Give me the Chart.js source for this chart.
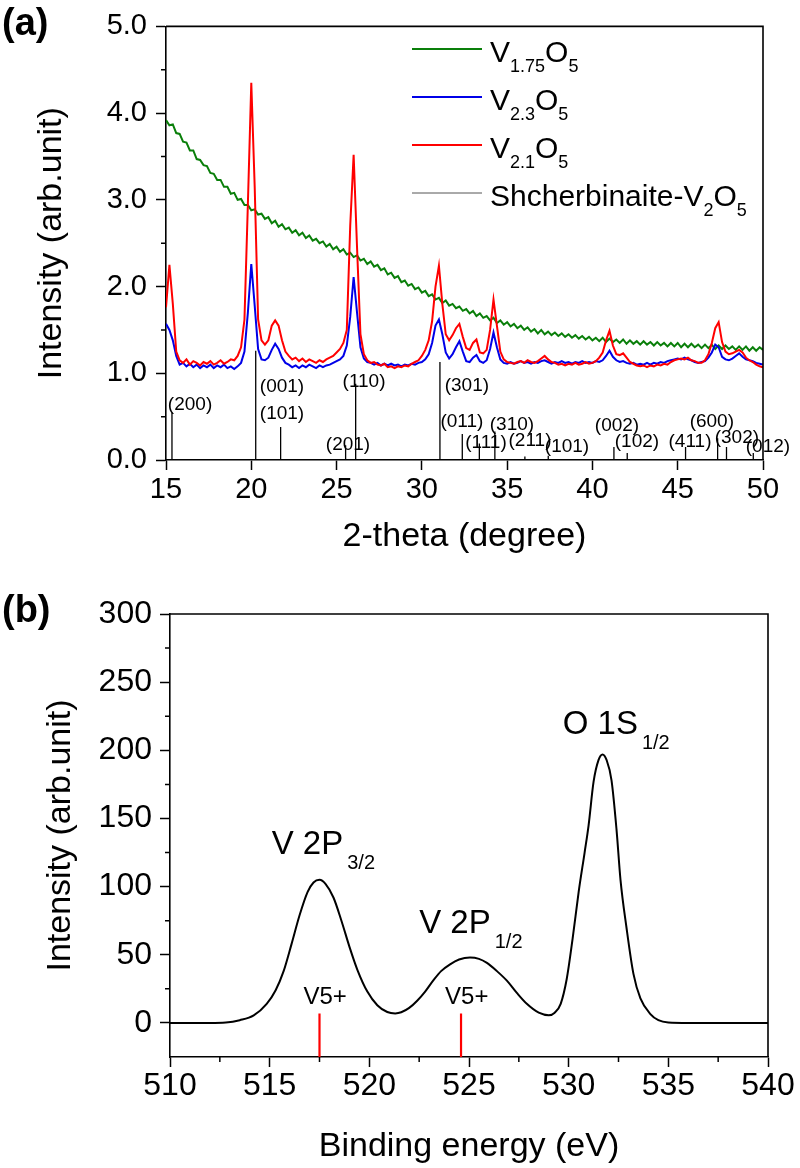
<!DOCTYPE html>
<html>
<head>
<meta charset="utf-8">
<script src="https://cdn.jsdelivr.net/npm/chart.js@4.4.1/dist/chart.umd.min.js"></script>
<style>
  html, body { margin: 0; padding: 0; background: #fff; }
  #wrap { position: relative; width: 800px; height: 1168px; }
  canvas { position: absolute; left: 0; }
  #xrd { top: 0; }
  #xps { top: 575px; }
</style>
</head>
<body>
<div id="wrap">
  <canvas id="xrd" width="800" height="575"></canvas>
  <canvas id="xps" width="800" height="593"></canvas>
</div>
<script>
// ---- panel (a): XRD, sampled every 0.2 degree from 15 to 50 ----
const twoTheta = [];
for (let i = 0; i <= 175; i++) twoTheta.push(Math.round((15 + i * 0.2) * 10) / 10);

const v175 = [
  3.92, 3.86, 3.87, 3.77, 3.76, 3.67, 3.66, 3.57, 3.57, 3.47,
  3.46, 3.40, 3.39, 3.31, 3.30, 3.23, 3.23, 3.15, 3.15, 3.07,
  3.08, 3.00, 3.01, 2.94, 2.94, 2.88, 2.89, 2.83, 2.84, 2.78,
  2.80, 2.73, 2.76, 2.69, 2.72, 2.66, 2.68, 2.62, 2.65, 2.59,
  2.62, 2.56, 2.59, 2.53, 2.55, 2.50, 2.52, 2.46, 2.49, 2.43,
  2.46, 2.40, 2.43, 2.37, 2.39, 2.34, 2.36, 2.30, 2.32, 2.26,
  2.29, 2.23, 2.25, 2.19, 2.21, 2.14, 2.16, 2.10, 2.12, 2.05,
  2.07, 2.01, 2.03, 1.97, 1.99, 1.93, 1.95, 1.89, 1.91, 1.85,
  1.87, 1.81, 1.84, 1.78, 1.80, 1.75, 1.77, 1.72, 1.74, 1.69,
  1.72, 1.66, 1.69, 1.64, 1.66, 1.61, 1.64, 1.58, 1.61, 1.56,
  1.59, 1.54, 1.57, 1.52, 1.55, 1.50, 1.53, 1.48, 1.51, 1.46,
  1.50, 1.45, 1.48, 1.44, 1.47, 1.43, 1.46, 1.42, 1.45, 1.41,
  1.44, 1.40, 1.43, 1.39, 1.42, 1.38, 1.41, 1.37, 1.41, 1.36,
  1.40, 1.36, 1.39, 1.35, 1.39, 1.34, 1.38, 1.34, 1.37, 1.33,
  1.37, 1.33, 1.36, 1.32, 1.36, 1.32, 1.35, 1.31, 1.35, 1.31,
  1.35, 1.30, 1.34, 1.30, 1.34, 1.30, 1.33, 1.29, 1.33, 1.29,
  1.33, 1.28, 1.32, 1.28, 1.32, 1.28, 1.31, 1.27, 1.31, 1.27,
  1.31, 1.26, 1.30, 1.26, 1.30, 1.27
];
const v23 = [
  1.57, 1.50, 1.38, 1.20, 1.10, 1.12, 1.08, 1.11, 1.07, 1.10,
  1.06, 1.09, 1.07, 1.10, 1.06, 1.09, 1.07, 1.10, 1.06, 1.08,
  1.05, 1.08, 1.12, 1.25, 1.70, 2.26, 1.78, 1.28, 1.16, 1.15,
  1.18, 1.27, 1.34, 1.28, 1.18, 1.12, 1.10, 1.07, 1.09, 1.06,
  1.09, 1.07, 1.10, 1.08, 1.06, 1.09, 1.07, 1.09, 1.10, 1.12,
  1.14, 1.16, 1.20, 1.32, 1.65, 2.11, 1.70, 1.30, 1.17, 1.13,
  1.12, 1.10, 1.12, 1.09, 1.11, 1.09, 1.11, 1.09, 1.10, 1.08,
  1.10, 1.09, 1.11, 1.10, 1.12, 1.13, 1.16, 1.22, 1.35, 1.55,
  1.62, 1.45, 1.24, 1.17, 1.22, 1.30, 1.37, 1.25, 1.14, 1.13,
  1.18, 1.21, 1.14, 1.12, 1.15, 1.28, 1.47, 1.30, 1.16, 1.12,
  1.11, 1.13, 1.11, 1.12, 1.14, 1.12, 1.13, 1.11, 1.13, 1.12,
  1.14, 1.15, 1.13, 1.11, 1.13, 1.12, 1.14, 1.12, 1.13, 1.11,
  1.13, 1.12, 1.14, 1.12, 1.13, 1.12, 1.14, 1.13, 1.15, 1.20,
  1.26, 1.19, 1.15, 1.13, 1.14, 1.12, 1.11, 1.12, 1.10, 1.11,
  1.10, 1.12, 1.10, 1.12, 1.11, 1.13, 1.12, 1.14, 1.15, 1.16,
  1.17, 1.16, 1.18, 1.16, 1.15, 1.13, 1.12, 1.13, 1.14, 1.18,
  1.24, 1.33, 1.30, 1.19, 1.16, 1.15, 1.17, 1.20, 1.23, 1.19,
  1.16, 1.15, 1.14, 1.12, 1.11, 1.10
];
const v21 = [
  1.76, 2.25, 1.80, 1.25, 1.15, 1.12, 1.16, 1.10, 1.14, 1.12,
  1.09, 1.13, 1.11, 1.14, 1.10, 1.12, 1.15, 1.11, 1.13, 1.16,
  1.15, 1.20, 1.30, 1.62, 2.95, 4.35, 3.15, 1.62, 1.38, 1.33,
  1.38, 1.55, 1.61, 1.55, 1.38, 1.25, 1.20, 1.16, 1.18, 1.14,
  1.17, 1.13, 1.16, 1.14, 1.12, 1.15, 1.13, 1.16, 1.18, 1.20,
  1.24, 1.28, 1.35, 1.50, 2.70, 3.52, 2.45, 1.45, 1.22, 1.15,
  1.12, 1.13, 1.10, 1.09, 1.11, 1.07, 1.08, 1.06, 1.08, 1.07,
  1.09, 1.08, 1.11, 1.13, 1.15, 1.20, 1.27, 1.38, 1.60, 2.00,
  2.24, 1.80, 1.45, 1.38, 1.44, 1.52, 1.57, 1.42, 1.29, 1.27,
  1.35, 1.39, 1.24, 1.23, 1.27, 1.50, 1.85, 1.55, 1.25, 1.16,
  1.13, 1.12, 1.11, 1.13, 1.14, 1.12, 1.15, 1.13, 1.12, 1.14,
  1.17, 1.20, 1.16, 1.13, 1.12, 1.10, 1.11, 1.09, 1.11, 1.10,
  1.12, 1.10, 1.11, 1.13, 1.11, 1.12, 1.14, 1.18, 1.24, 1.38,
  1.49, 1.32, 1.22, 1.21, 1.23, 1.18, 1.13, 1.11, 1.09, 1.08,
  1.09, 1.07, 1.09, 1.08, 1.10, 1.09, 1.11, 1.10, 1.13, 1.15,
  1.16, 1.17, 1.16, 1.18, 1.15, 1.14, 1.12, 1.12, 1.15, 1.22,
  1.35, 1.52, 1.59, 1.36, 1.25, 1.22, 1.23, 1.25, 1.27, 1.24,
  1.18, 1.15, 1.13, 1.10, 1.08, 1.07
];

// Shcherbinaite V2O5 reference pattern (stick positions and heights)
const refTheta  = [15.35, 20.26, 21.72, 25.53, 26.12, 31.06, 32.37, 33.37, 34.28, 36.04, 37.41, 41.26, 42.04, 45.46, 47.34, 47.86, 49.43];
const refHeight = [0.55, 1.26, 0.38, 0.17, 0.88, 1.13, 0.30, 0.19, 0.33, 0.04, 0.05, 0.15, 0.08, 0.15, 0.25, 0.15, 0.08];

// hkl labels with their anchor (centre) in data units
const hklText  = ['(200)', '(001)', '(101)', '(201)', '(110)', '(301)', '(011)', '(310)', '(111)', '(211)', '(101)', '(002)', '(102)', '(411)', '(600)', '(302)', '(012)'];
const hklTheta = [16.41, 21.80, 21.80, 25.67, 26.61, 32.64, 32.35, 35.28, 33.76, 36.34, 38.51, 41.44, 42.61, 45.72, 47.00, 48.47, 50.29];
const hklLevel = [0.64, 0.84, 0.53, 0.17, 0.90, 0.86, 0.44, 0.41, 0.20, 0.22, 0.15, 0.39, 0.21, 0.21, 0.44, 0.26, 0.15];

const thetaTicks = [15, 20, 25, 30, 35, 40, 45, 50];
const xrdTicks = [0, 1, 2, 3, 4, 5];
const xrdMinor = [0.5, 1.5, 2.5, 3.5, 4.5];

// ---- panel (b): XPS ----
const bindingEnergy = [510, 511, 512, 512.8, 513.5, 514.2, 514.85, 515.3, 515.7, 516.1,
  516.5, 516.9, 517.2, 517.5, 517.8, 518.2, 518.6, 519.0, 519.4, 519.9,
  520.4, 520.9, 521.3, 521.6, 522.0, 522.4, 522.8, 523.2, 523.6, 524.05,
  524.5, 525.05, 525.5, 525.9, 526.4, 526.9, 527.4, 527.9, 528.5, 529.0,
  529.3, 529.6, 529.9, 530.2, 530.5, 530.8, 531.0, 531.25, 531.5, 531.7,
  531.9, 532.15, 532.4, 532.6, 532.9, 533.25, 533.6, 534.1, 534.5, 535.0, 536, 540];
const xpsIntensity = [0, 0, 0, 0.3, 2, 5.5, 14, 24, 38, 58,
  79, 96, 103, 105, 102, 92, 75, 56, 39, 23,
  13, 8, 7, 7.8, 11, 16.3, 23, 31, 38, 43,
  46.5, 48, 47, 44, 38, 31, 22, 14, 7.5, 5.6,
  7.5, 14, 32, 62, 96, 125, 145, 177, 193, 197,
  193, 178, 142, 105, 70, 36, 18, 6.5, 2, 0.3, 0, 0];

const v5Energy = [517.5, 524.6];
const v5Top = 7;

const peakText   = [['V 2P', '3/2'], ['V 2P', '1/2'], ['O 1S', '1/2']];
const peakEnergy = [515.1, 522.5, 529.7];
const peakLevel  = [124, 66, 212];

const energyTicks = [510, 515, 520, 525, 530, 535, 540];
const energyMinor = [512.5, 517.5, 522.5, 527.5, 532.5, 537.5];
const xpsTicks = [0, 50, 100, 150, 200, 250, 300];
const xpsMinor = [25, 75, 125, 175, 225, 275];

const FONT = "'Liberation Sans', Arial, sans-serif";
Chart.defaults.font.family = FONT;
Chart.defaults.color = '#000';

function richText(ctx, parts, x, y, size, subSize, drop, gap) {
  let cx = x;
  parts.forEach(([txt, sub]) => {
    ctx.font = (sub ? subSize : size) + 'px ' + FONT;
    if (sub) cx += gap;
    ctx.fillText(txt, cx, sub ? y + drop : y);
    cx += ctx.measureText(txt).width;
  });
}

function minorTicks(ctx, chart, xVals, yVals) {
  const {left, bottom} = chart.chartArea;
  ctx.strokeStyle = '#000';
  ctx.lineWidth = 1.5;
  ctx.beginPath();
  yVals.forEach(v => {
    const py = chart.scales.y.getPixelForValue(v);
    ctx.moveTo(left - 5, py); ctx.lineTo(left, py);
  });
  xVals.forEach(v => {
    const px = chart.scales.x.getPixelForValue(v);
    ctx.moveTo(px, bottom); ctx.lineTo(px, bottom + 5);
  });
  ctx.stroke();
}

function frame(ctx, chart) {
  const a = chart.chartArea;
  ctx.strokeStyle = '#000';
  ctx.lineWidth = 1.6;
  ctx.beginPath();
  ctx.moveTo(a.left, a.top); ctx.lineTo(a.right, a.top); ctx.lineTo(a.right, a.bottom);
  ctx.stroke();
}

function axes(xOpts, yOpts) {
  const common = {
    grid: { drawOnChartArea: false, tickLength: 10, tickWidth: 1.5, tickColor: '#000' },
    border: { color: '#000', width: 1.6 }
  };
  return {
    x: Object.assign({ type: 'linear' }, common, xOpts),
    y: Object.assign({ type: 'linear' }, common, yOpts)
  };
}

const legendItems = [
  { color: '#0a7f0a', width: 2, parts: [['V', 0], ['1.75', 1], ['O', 0], ['5', 1]] },
  { color: '#0000e8', width: 2, parts: [['V', 0], ['2.3', 1], ['O', 0], ['5', 1]] },
  { color: '#ff0000', width: 2, parts: [['V', 0], ['2.1', 1], ['O', 0], ['5', 1]] },
  { color: '#555555', width: 1, parts: [['Shcherbinaite-V', 0], ['2', 1], ['O', 0], ['5', 1]] }
];

const xrdDecor = {
  id: 'xrdDecor',
  afterDraw(chart) {
    const ctx = chart.ctx;
    const {x, y} = chart.scales;
    ctx.save();
    frame(ctx, chart);
    minorTicks(ctx, chart, [], xrdMinor);
    // hkl labels
    ctx.fillStyle = '#000';
    ctx.font = '19px ' + FONT;
    ctx.textAlign = 'center';
    ctx.textBaseline = 'middle';
    hklText.forEach((t, i) => ctx.fillText(t, x.getPixelForValue(hklTheta[i]), y.getPixelForValue(hklLevel[i])));
    // legend
    ctx.textAlign = 'left';
    ctx.textBaseline = 'alphabetic';
    legendItems.forEach((it, i) => {
      const base = 62 + i * 48;
      ctx.strokeStyle = it.color;
      ctx.lineWidth = it.width;
      ctx.beginPath();
      ctx.moveTo(412, base - 13); ctx.lineTo(482, base - 13);
      ctx.stroke();
      richText(ctx, it.parts, 490, base, 30, 18, 10, 0);
    });
    ctx.font = 'bold 38px ' + FONT;
    ctx.fillText('(a)', 2, 35);
    ctx.restore();
  }
};

const xpsDecor = {
  id: 'xpsDecor',
  afterDraw(chart) {
    const ctx = chart.ctx;
    const {x, y} = chart.scales;
    ctx.save();
    frame(ctx, chart);
    minorTicks(ctx, chart, energyMinor, xpsMinor);
    ctx.fillStyle = '#000';
    ctx.textAlign = 'left';
    ctx.textBaseline = 'alphabetic';
    peakText.forEach((p, i) => {
      richText(ctx, [[p[0], 0], [p[1], 1]], x.getPixelForValue(peakEnergy[i]), y.getPixelForValue(peakLevel[i]), 33, 20, 15, 4);
    });
    ctx.font = '24px ' + FONT;
    v5Energy.forEach(e => ctx.fillText('V5+', x.getPixelForValue(e) - 16, y.getPixelForValue(14)));
    ctx.font = 'bold 38px ' + FONT;
    ctx.fillText('(b)', 2, 47);
    ctx.restore();
  }
};

function buildXRDChart() {
  const sticks = [];
  refTheta.forEach((t, i) => {
    sticks.push({ x: t, y: 0 }, { x: t, y: refHeight[i] }, { x: t, y: null });
  });
  const series = (vals) => twoTheta.map((t, i) => ({ x: t, y: vals[i] }));
  return new Chart(document.getElementById('xrd'), {
    type: 'line',
    data: {
      datasets: [
        { label: 'V2.1O5', data: series(v21), borderColor: '#ff0000', borderWidth: 2 },
        { label: 'V2.3O5', data: series(v23), borderColor: '#0000e8', borderWidth: 2 },
        { label: 'V1.75O5', data: series(v175), borderColor: '#0a7f0a', borderWidth: 2 },
        { label: 'Shcherbinaite-V2O5', data: sticks, borderColor: '#000', borderWidth: 1.3, spanGaps: false }
      ]
    },
    options: {
      responsive: false,
      animation: false,
      layout: { padding: { left: 0, top: 25, right: 37, bottom: 0 } },
      plugins: { legend: { display: false }, tooltip: { enabled: false } },
      elements: { point: { radius: 0 }, line: { tension: 0 } },
      scales: axes({
        min: 15, max: 50,
        afterBuildTicks: s => { s.ticks = thetaTicks.map(v => ({ value: v })); },
        afterFit: s => { s.height = 115; },
        ticks: { font: { size: 29 }, padding: 3, autoSkip: false, maxRotation: 0 },
        title: { display: true, text: '2-theta (degree)', font: { size: 34 }, padding: { top: 0, bottom: 18 } }
      }, {
        min: 0, max: 5,
        afterBuildTicks: s => { s.ticks = xrdTicks.map(v => ({ value: v })); },
        afterFit: s => { s.width = 166; },
        ticks: { font: { size: 29 }, padding: 9, autoSkip: false, callback: v => v.toFixed(1) },
        title: { display: true, text: 'Intensity (arb.unit)', font: { size: 34 }, padding: { top: 31, bottom: 0 } }
      })
    },
    plugins: [xrdDecor]
  });
}

function buildXPSChart() {
  const markers = [];
  v5Energy.forEach(e => {
    markers.push({ x: e, y: -25 }, { x: e, y: v5Top }, { x: e, y: null });
  });
  return new Chart(document.getElementById('xps'), {
    type: 'line',
    data: {
      datasets: [
        { label: 'XPS', data: bindingEnergy.map((e, i) => ({ x: e, y: xpsIntensity[i] })),
          borderColor: '#000', borderWidth: 2, cubicInterpolationMode: 'monotone' },
        { label: 'V5+', data: markers, borderColor: '#ff0000', borderWidth: 2.2, spanGaps: false }
      ]
    },
    options: {
      responsive: false,
      animation: false,
      layout: { padding: { left: 0, top: 39, right: 32, bottom: 0 } },
      plugins: { legend: { display: false }, tooltip: { enabled: false } },
      elements: { point: { radius: 0 } },
      scales: axes({
        min: 510, max: 540,
        afterBuildTicks: s => { s.ticks = energyTicks.map(v => ({ value: v })); },
        afterFit: s => { s.height = 111; },
        ticks: { font: { size: 32 }, padding: 0, autoSkip: false, maxRotation: 0 },
        title: { display: true, text: 'Binding energy (eV)', font: { size: 34 }, padding: { top: 0, bottom: 1 } }
      }, {
        min: -25, max: 300,
        afterBuildTicks: s => { s.ticks = xpsTicks.map(v => ({ value: v })); },
        afterFit: s => { s.width = 170; },
        ticks: { font: { size: 32 }, padding: 8, autoSkip: false },
        title: { display: true, text: 'Intensity (arb.unit)', font: { size: 34 }, padding: { top: 40, bottom: 0 } }
      })
    },
    plugins: [xpsDecor]
  });
}

function initPage() {
  buildXRDChart();
  buildXPSChart();
}

document.addEventListener('DOMContentLoaded', initPage);
</script>
</body>
</html>
